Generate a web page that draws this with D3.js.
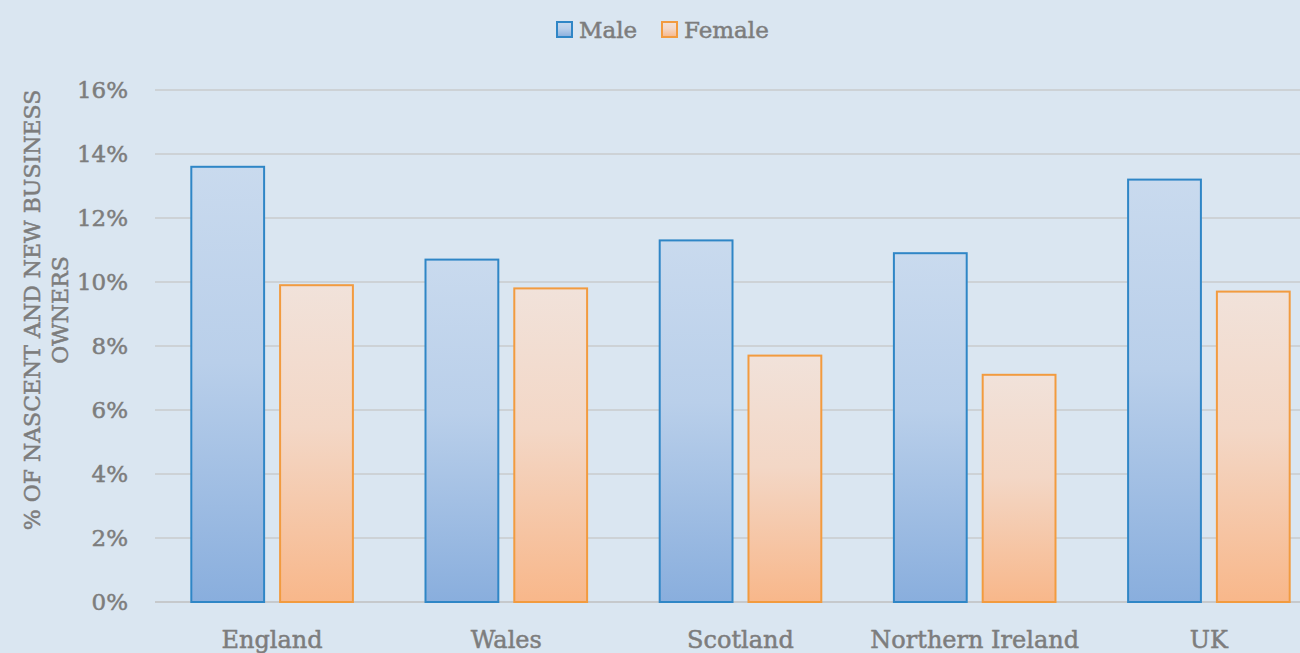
<!DOCTYPE html>
<html>
<head>
<meta charset="utf-8">
<script src="https://cdn.jsdelivr.net/npm/d3@7/dist/d3.min.js"></script>
<style>
  html, body { margin: 0; padding: 0; background: #dae6f1; overflow: hidden; }
  svg { display: block; }
  text { font-family: "DejaVu Serif", "Liberation Serif", serif; fill: #7d7d7d; stroke: #7d7d7d; stroke-width: 0.5px; }
</style>
</head>
<body>
<div id="chart"></div>
<script>
const categories = ['England', 'Wales', 'Scotland', 'Northern Ireland', 'UK'];
const seriesNames = ['Male', 'Female'];
const maleValues = [13.6, 10.7, 11.3, 10.9, 13.2];
const femaleValues = [9.9, 9.8, 7.7, 7.1, 9.7];
const yTicks = [0, 2, 4, 6, 8, 10, 12, 14, 16];
const yTitle = ['% OF NASCENT AND NEW BUSINESS', 'OWNERS'];

const width = 1300;
const height = 653;

const svg = d3.select('#chart')
  .append('svg')
  .attr('width', width)
  .attr('height', height);

svg.append('rect')
  .attr('width', width)
  .attr('height', height)
  .attr('fill', '#dae6f1');

const colors = {
  Male: { stroke: '#2f86c6', top: '#c9daee', bottom: '#89aedd' },
  Female: { stroke: '#f29b3f', top: '#f1e2da', bottom: '#f8b78a' }
};

// gradients for bars
const defs = svg.append('defs');
seriesNames.forEach(s => {
  const g = defs.append('linearGradient')
    .attr('id', 'grad-' + s)
    .attr('x1', 0).attr('y1', 0).attr('x2', 0).attr('y2', 1);
  g.append('stop').attr('offset', '0%').attr('stop-color', colors[s].top);
  g.append('stop').attr('offset', '45%').attr('stop-color', d3.interpolateRgb(colors[s].top, colors[s].bottom)(0.25));
  g.append('stop').attr('offset', '100%').attr('stop-color', colors[s].bottom);
});

const y = d3.scaleLinear().domain([0, 16]).range([602, 90]);

const x0 = d3.scaleBand()
  .domain(categories)
  .range([155, 1326])
  .paddingInner(0.31)
  .paddingOuter(0.155);

const x1 = d3.scaleBand()
  .domain(seriesNames)
  .range([0, x0.bandwidth()])
  .paddingInner(0.18);

// gridlines
svg.append('g')
  .selectAll('line')
  .data(yTicks)
  .enter()
  .append('line')
  .attr('x1', 155)
  .attr('x2', width)
  .attr('y1', d => y(d))
  .attr('y2', d => y(d))
  .attr('stroke', d => d === 0 ? '#bfbfbf' : '#c9cbcc')
  .attr('stroke-width', 1.5);

// y tick labels
svg.append('g')
  .selectAll('text')
  .data(yTicks)
  .enter()
  .append('text')
  .attr('x', 128)
  .attr('y', d => y(d))
  .attr('dy', '0.35em')
  .attr('text-anchor', 'end')
  .attr('font-size', 23)
  .text(d => d + '%');

// y axis title
const title = svg.append('text')
  .attr('transform', 'translate(0,310) rotate(-90)')
  .attr('text-anchor', 'middle')
  .attr('font-size', 22);
title.selectAll('tspan')
  .data(yTitle)
  .enter()
  .append('tspan')
  .attr('x', 0)
  .attr('y', (d, i) => 40 + i * 28)
  .text(d => d);

// bars
const rows = categories.map((c, i) => ({ cat: c, Male: maleValues[i], Female: femaleValues[i] }));

const groups = svg.append('g')
  .selectAll('g')
  .data(rows)
  .enter()
  .append('g')
  .attr('transform', d => `translate(${x0(d.cat)},0)`);

groups.selectAll('rect')
  .data(d => seriesNames.map(s => ({ s, v: d[s] })))
  .enter()
  .append('rect')
  .attr('x', d => x1(d.s))
  .attr('y', d => y(d.v))
  .attr('width', x1.bandwidth())
  .attr('height', d => y(0) - y(d.v))
  .attr('fill', d => `url(#grad-${d.s})`)
  .attr('stroke', d => colors[d.s].stroke)
  .attr('stroke-width', 2);

// category labels
svg.append('g')
  .selectAll('text')
  .data(categories)
  .enter()
  .append('text')
  .attr('x', d => x0(d) + x0.bandwidth() / 2)
  .attr('y', 648)
  .attr('text-anchor', 'middle')
  .attr('font-size', 24)
  .text(d => d);

// legend
const legendPos = [557, 662];
const legend = svg.append('g')
  .selectAll('g')
  .data(seriesNames)
  .enter()
  .append('g')
  .attr('transform', (d, i) => `translate(${legendPos[i]},22)`);

legend.append('rect')
  .attr('width', 15)
  .attr('height', 15)
  .attr('fill', d => `url(#grad-${d})`)
  .attr('stroke', d => colors[d].stroke)
  .attr('stroke-width', 2);

legend.append('text')
  .attr('x', 22)
  .attr('y', 8)
  .attr('dy', '0.35em')
  .attr('font-size', 23)
  .text(d => d);
</script>
</body>
</html>
